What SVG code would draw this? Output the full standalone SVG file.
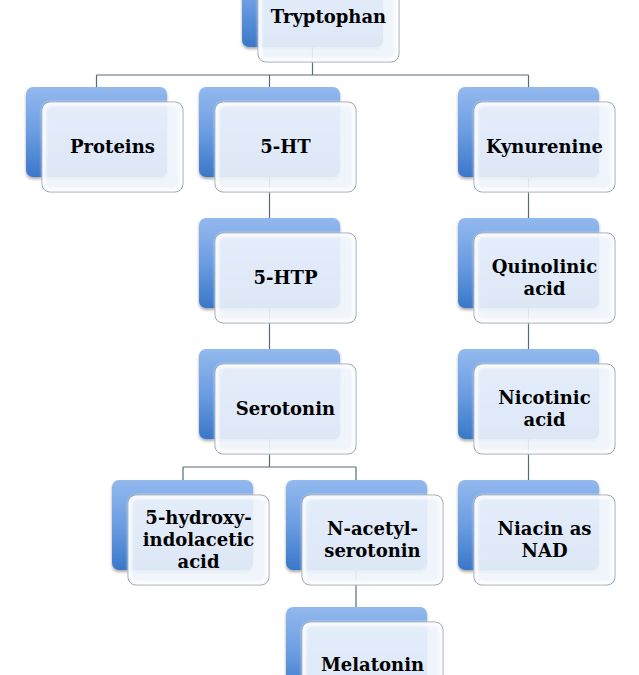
<svg xmlns="http://www.w3.org/2000/svg" width="639" height="675" viewBox="0 0 639 675">
  <defs>
    <linearGradient id="blueGrad" x1="0" y1="0" x2="0" y2="1">
      <stop offset="0" stop-color="#93b9ee"/>
      <stop offset="0.5" stop-color="#6b9de2"/>
      <stop offset="1" stop-color="#3a77c8"/>
    </linearGradient>
    <filter id="shadow" x="-10%" y="-10%" width="125%" height="130%">
      <feGaussianBlur in="SourceAlpha" stdDeviation="1.5"/>
      <feOffset dx="0" dy="2" result="b"/>
      <feComponentTransfer><feFuncA type="linear" slope="0.35"/></feComponentTransfer>
      <feMerge><feMergeNode/><feMergeNode in="SourceGraphic"/></feMerge>
    </filter>
    <filter id="soft" x="-5%" y="-5%" width="110%" height="110%">
      <feGaussianBlur stdDeviation="1.5"/>
    </filter>
  </defs>
  <style>
    .back { fill: url(#blueGrad); filter: url(#shadow); }
    .front { fill: #eef3fb; fill-opacity: 0.9; stroke: #6f7e8e; stroke-width: 1; }
    .inner { fill: none; stroke: #ffffff; stroke-opacity: 0.85; stroke-width: 4; filter: url(#soft); }
    .conn { fill: none; stroke: #566a7c; stroke-width: 1.2; }
    .label { font-family: "DejaVu Serif", "Liberation Serif", serif; font-weight: bold; font-size: 18px; fill: #000000; text-anchor: middle; }
  </style>
  <rect width="639" height="675" fill="#ffffff"/>

  <g id="connectors">
    <path class="conn" d="M312.5,40 V75 M96.5,75 H528.5 M96.5,75 V100 M269.5,75 V100 M528.5,75 V100"/>
    <path class="conn" d="M269.5,170 V240"/>
    <path class="conn" d="M269.5,300 V370"/>
    <path class="conn" d="M269.5,430 V467 M183,467 H356 M183,467 V500 M356,467 V500"/>
    <path class="conn" d="M528.5,170 V240"/>
    <path class="conn" d="M528.5,300 V370"/>
    <path class="conn" d="M528.5,430 V500"/>
    <path class="conn" d="M356,560 V625"/>
  </g>

  <g id="tryptophan">
    <rect class="back" x="242" y="-43" width="141" height="90" rx="7"/>
    <rect class="front" x="258" y="-28" width="141" height="90" rx="8"/>
    <rect class="inner" x="260" y="-26" width="137" height="86" rx="7"/>
    <text class="label" x="328.5" y="23">Tryptophan</text>
  </g>

  <g id="proteins">
    <rect class="back" x="26" y="87" width="141" height="90" rx="7"/>
    <rect class="front" x="42" y="102" width="141" height="90" rx="8"/>
    <rect class="inner" x="44" y="104" width="137" height="86" rx="7"/>
    <text class="label" x="112.5" y="153">Proteins</text>
  </g>

  <g id="ht5">
    <rect class="back" x="199" y="87" width="141" height="90" rx="7"/>
    <rect class="front" x="215" y="102" width="141" height="90" rx="8"/>
    <rect class="inner" x="217" y="104" width="137" height="86" rx="7"/>
    <text class="label" x="285.5" y="153">5-HT</text>
  </g>

  <g id="kynurenine">
    <rect class="back" x="458" y="87" width="141" height="90" rx="7"/>
    <rect class="front" x="474" y="102" width="141" height="90" rx="8"/>
    <rect class="inner" x="476" y="104" width="137" height="86" rx="7"/>
    <text class="label" x="544.5" y="153">Kynurenine</text>
  </g>

  <g id="htp5">
    <rect class="back" x="199" y="218" width="141" height="90" rx="7"/>
    <rect class="front" x="215" y="233" width="141" height="90" rx="8"/>
    <rect class="inner" x="217" y="235" width="137" height="86" rx="7"/>
    <text class="label" x="285.5" y="284">5-HTP</text>
  </g>

  <g id="quinolinic">
    <rect class="back" x="458" y="218" width="141" height="90" rx="7"/>
    <rect class="front" x="474" y="233" width="141" height="90" rx="8"/>
    <rect class="inner" x="476" y="235" width="137" height="86" rx="7"/>
    <text class="label" x="544.5" y="273">Quinolinic</text>
    <text class="label" x="544.5" y="295">acid</text>
  </g>

  <g id="serotonin">
    <rect class="back" x="199" y="349" width="141" height="90" rx="7"/>
    <rect class="front" x="215" y="364" width="141" height="90" rx="8"/>
    <rect class="inner" x="217" y="366" width="137" height="86" rx="7"/>
    <text class="label" x="285.5" y="415">Serotonin</text>
  </g>

  <g id="nicotinic">
    <rect class="back" x="458" y="349" width="141" height="90" rx="7"/>
    <rect class="front" x="474" y="364" width="141" height="90" rx="8"/>
    <rect class="inner" x="476" y="366" width="137" height="86" rx="7"/>
    <text class="label" x="544.5" y="404">Nicotinic</text>
    <text class="label" x="544.5" y="426">acid</text>
  </g>

  <g id="hydroxyindolacetic">
    <rect class="back" x="112" y="480" width="141" height="90" rx="7"/>
    <rect class="front" x="128" y="495" width="141" height="90" rx="8"/>
    <rect class="inner" x="130" y="497" width="137" height="86" rx="7"/>
    <text class="label" x="198.5" y="524">5-hydroxy-</text>
    <text class="label" x="198.5" y="546">indolacetic</text>
    <text class="label" x="198.5" y="568">acid</text>
  </g>

  <g id="nacetylserotonin">
    <rect class="back" x="286" y="480" width="141" height="90" rx="7"/>
    <rect class="front" x="302" y="495" width="141" height="90" rx="8"/>
    <rect class="inner" x="304" y="497" width="137" height="86" rx="7"/>
    <text class="label" x="372.5" y="535">N-acetyl-</text>
    <text class="label" x="372.5" y="557">serotonin</text>
  </g>

  <g id="niacin">
    <rect class="back" x="458" y="480" width="141" height="90" rx="7"/>
    <rect class="front" x="474" y="495" width="141" height="90" rx="8"/>
    <rect class="inner" x="476" y="497" width="137" height="86" rx="7"/>
    <text class="label" x="544.5" y="535">Niacin as</text>
    <text class="label" x="544.5" y="557">NAD</text>
  </g>

  <g id="melatonin">
    <rect class="back" x="286" y="607" width="141" height="90" rx="7"/>
    <rect class="front" x="302" y="622" width="141" height="90" rx="8"/>
    <rect class="inner" x="304" y="624" width="137" height="86" rx="7"/>
    <text class="label" x="372.5" y="671">Melatonin</text>
  </g>
</svg>
